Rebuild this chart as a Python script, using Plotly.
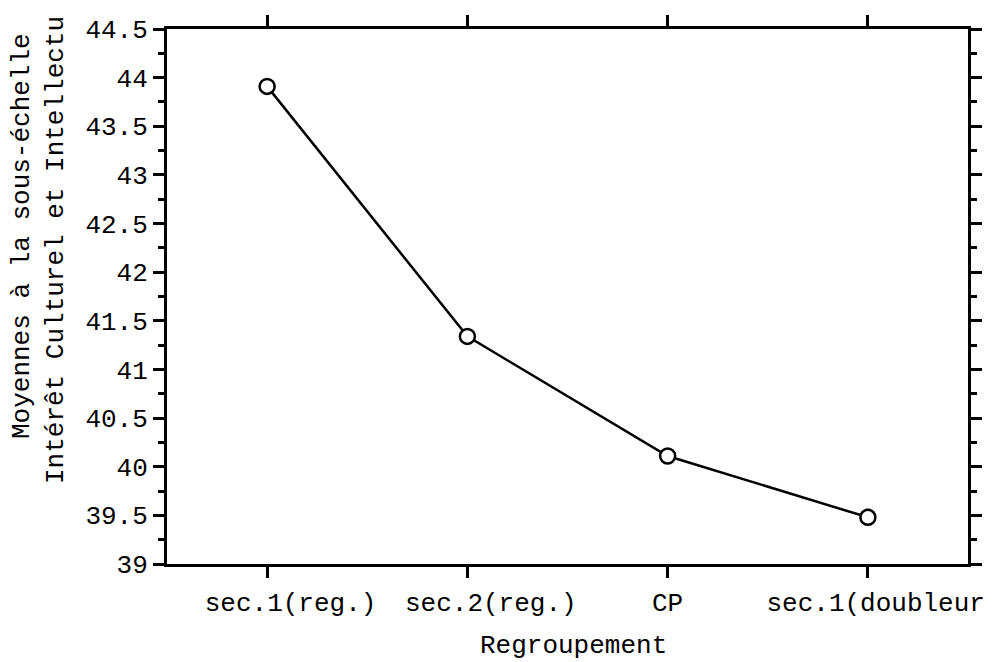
import plotly.graph_objects as go

categories = ["sec.1(reg.)", "sec.2(reg.)", "CP", "sec.1(doubleur"]
# leading padding reproduces the off-centre placement of the reference labels
category_pad = [3, 3, 0, 1]
means = [43.91, 41.34, 40.11, 39.48]
y_ticks = [39, 39.5, 40, 40.5, 41, 41.5, 42, 42.5, 43, 43.5, 44, 44.5]
y_tick_labels = ["39", "39.5", "40", "40.5", "41", "41.5", "42", "42.5", "43", "43.5", "44", "44.5"]
x_title = "Regroupement"
y_title_1 = "Moyennes à la sous-échelle"
y_title_2 = "Intérêt Culturel et Intellectu"

FONT = "Liberation Mono, Courier New, monospace"
OFF = 8  # default page body margin
W, H = 1003 - 2 * OFF, 662 - OFF
L, R, T, B = 167 - OFF, 1003 - OFF - 968, 29 - OFF, 98

x_idx = list(range(len(categories)))
tick_text = ["\u00a0" * p + c for c, p in zip(categories, category_pad)]

fig = go.Figure()
fig.add_trace(go.Scatter(
    x=x_idx, y=means, mode="lines+markers",
    line=dict(color="black", width=2.5),
    marker=dict(symbol="circle", size=15, color="white",
                line=dict(color="black", width=2.5)),
    showlegend=False, cliponaxis=False,
))

fig.update_layout(
    width=W, height=H,
    margin=dict(l=L, r=R, t=T, b=B, autoexpand=False),
    paper_bgcolor="white", plot_bgcolor="white",
    font=dict(family=FONT, size=26, color="black"),
    xaxis=dict(
        range=[-0.5, 3.5], tickmode="array", tickvals=x_idx, ticktext=tick_text,
        tickangle=0,
        showline=True, linecolor="black", linewidth=3, mirror="allticks",
        ticks="outside", ticklen=11, tickwidth=2.5, tickcolor="black",
        showgrid=False, zeroline=False, ticklabelstandoff=2,
        tickfont=dict(family=FONT, size=26, color="black"),
    ),
    yaxis=dict(
        range=[39, 44.5], tickmode="array", tickvals=y_ticks, ticktext=y_tick_labels,
        showline=True, linecolor="black", linewidth=3, mirror="allticks",
        ticks="outside", ticklen=11, tickwidth=2.5, tickcolor="black",
        minor=dict(dtick=0.25, ticks="outside", ticklen=6, tickwidth=2.5, tickcolor="black"),
        showgrid=False, zeroline=False, ticklabelstandoff=0,
        tickfont=dict(family=FONT, size=26, color="black"),
    ),
)

def px_x(p):
    return (p - OFF - L) / (W - L - R)

def px_y(p):
    return 1 - (p - OFF - T) / (H - T - B)

fig.add_annotation(text=x_title, xref="paper", yref="paper",
                   x=px_x(573), y=px_y(646), showarrow=False,
                   xanchor="center", yanchor="middle",
                   font=dict(family=FONT, size=26, color="black"))
fig.add_annotation(text=y_title_1, xref="paper", yref="paper",
                   x=px_x(22), y=px_y(236), showarrow=False, textangle=-90,
                   xanchor="center", yanchor="middle",
                   font=dict(family=FONT, size=26, color="black"))
fig.add_annotation(text=y_title_2, xref="paper", yref="paper",
                   x=px_x(56), y=px_y(250), showarrow=False, textangle=-90,
                   xanchor="center", yanchor="middle",
                   font=dict(family=FONT, size=26, color="black"))

fig.write_html("out.html")
